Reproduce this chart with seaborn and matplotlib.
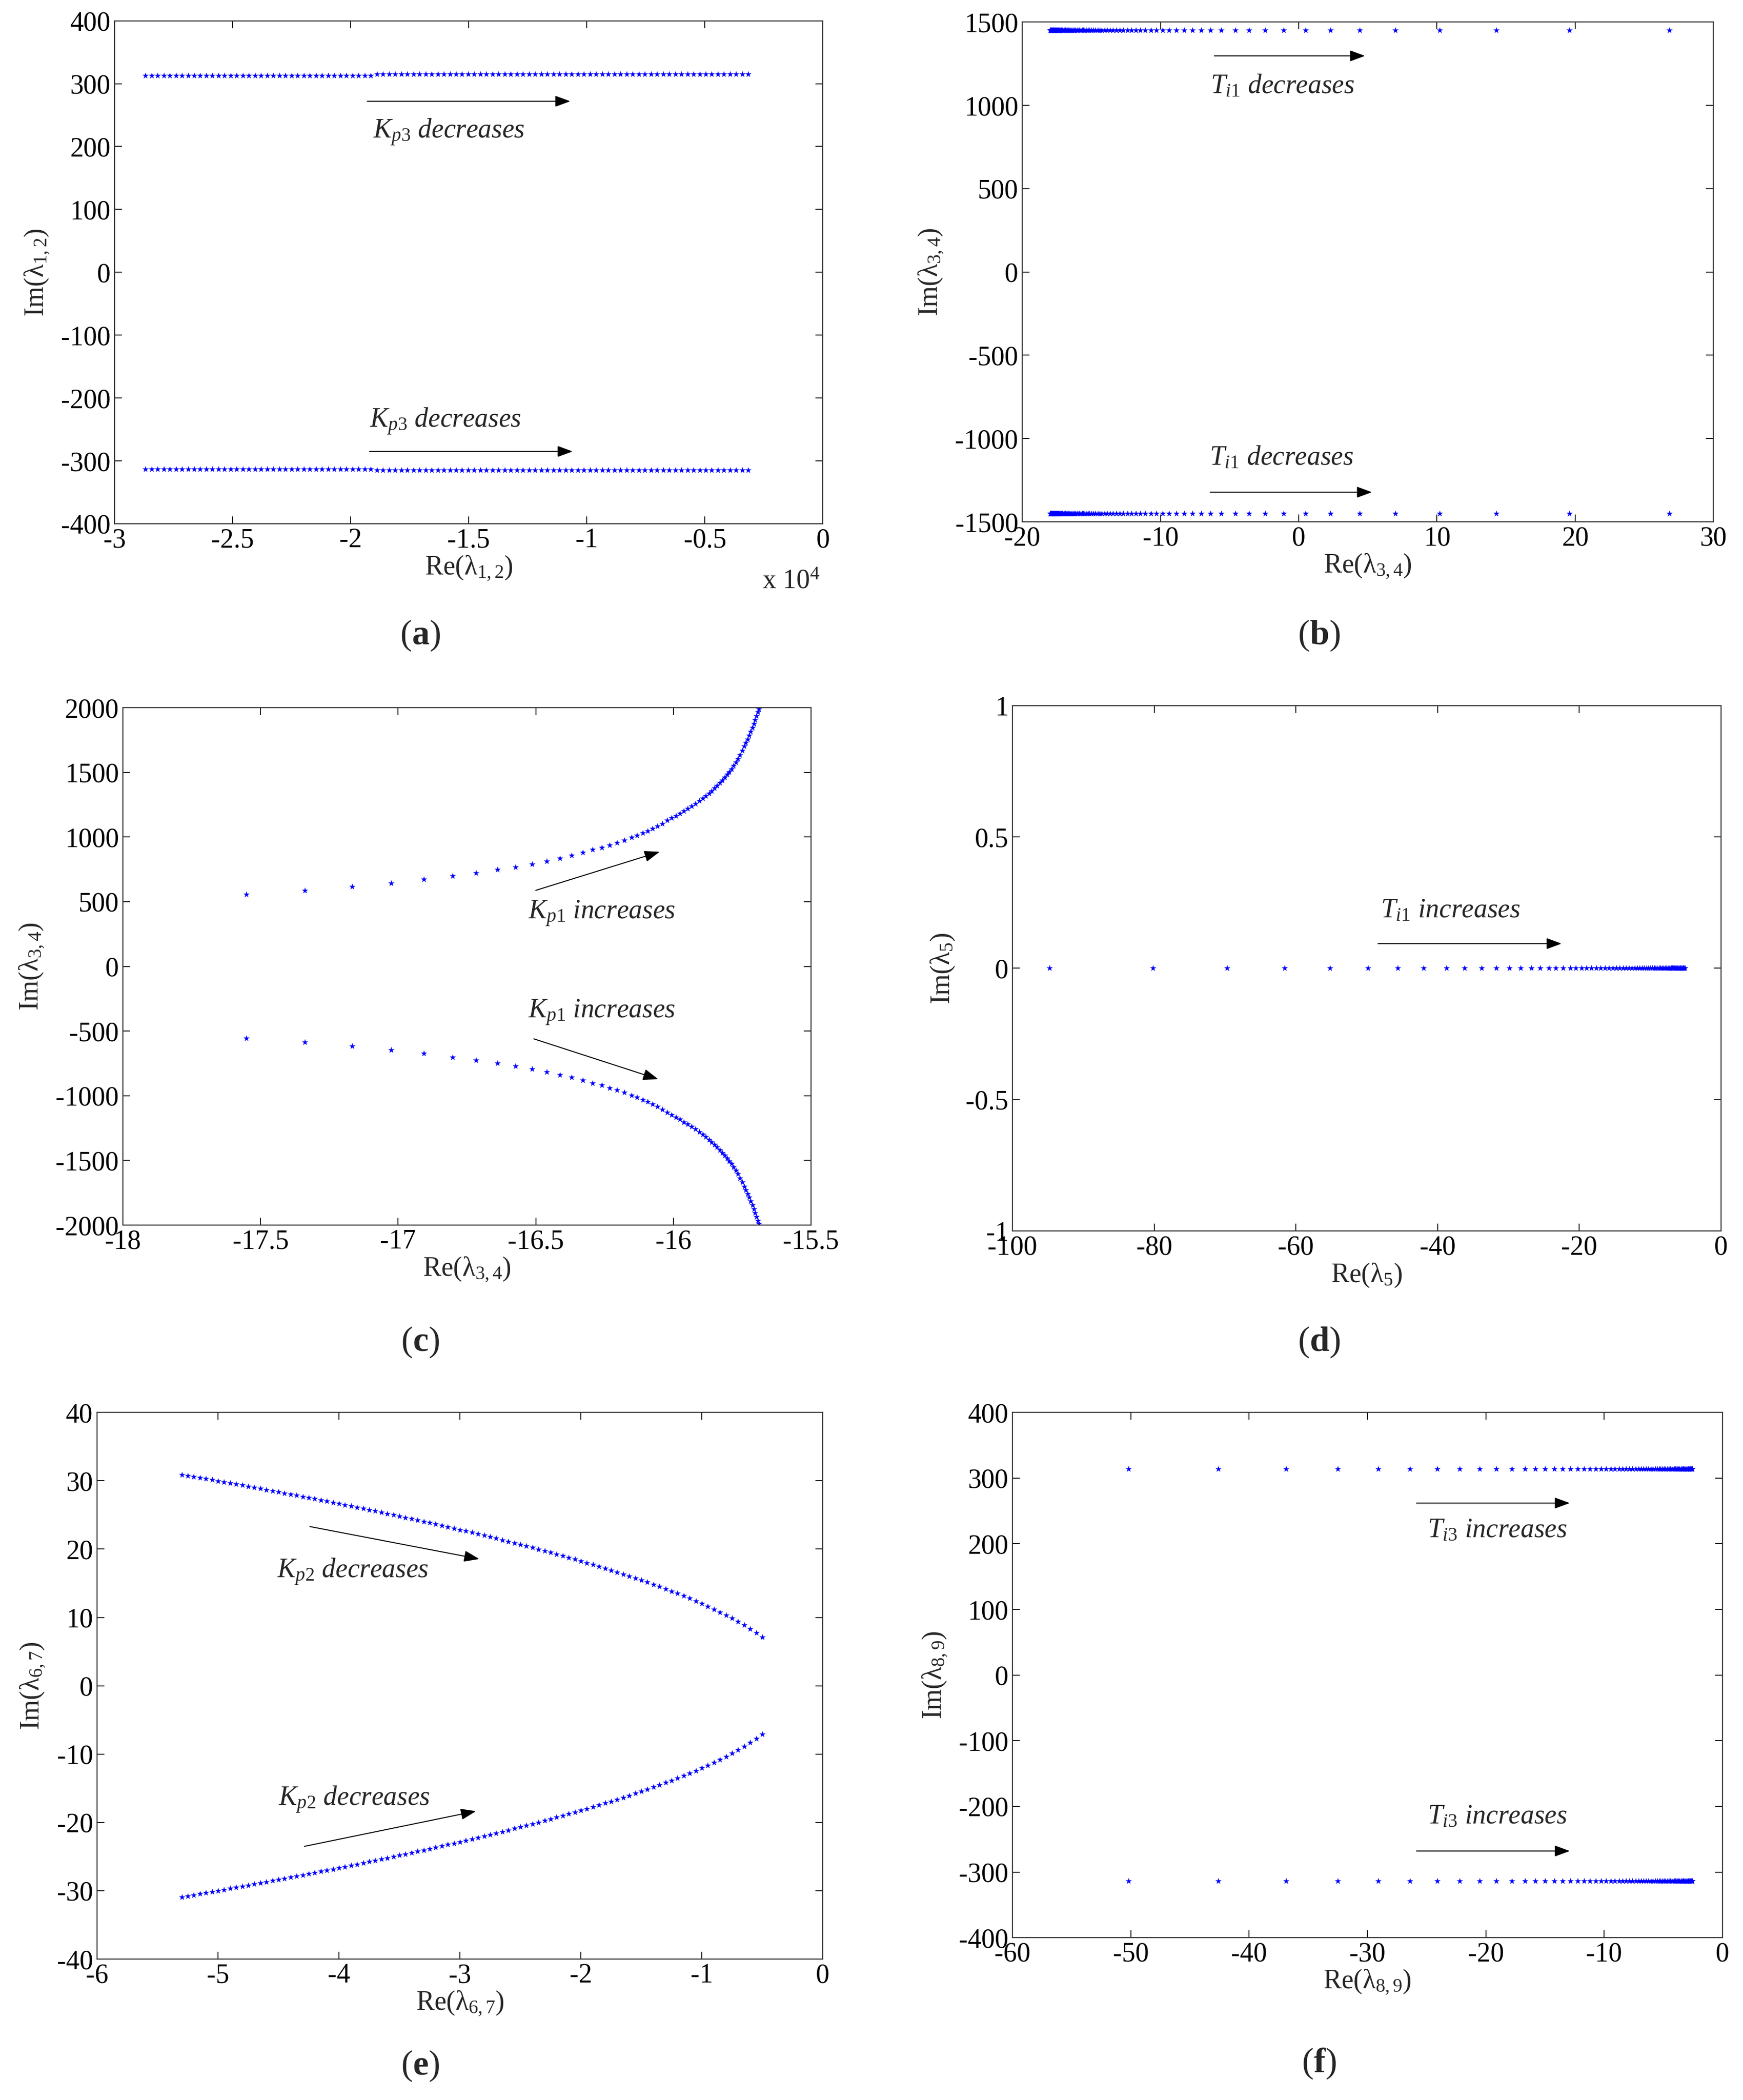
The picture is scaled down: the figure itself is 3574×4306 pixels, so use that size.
import numpy as np
import seaborn as sns
import matplotlib
matplotlib.use("Agg")
import matplotlib.pyplot as plt
from matplotlib.ticker import FuncFormatter

# ---------------- data ----------------
# (a) lambda_1,2 : Kp3 decreases (lower branch is the conjugate)
re_12 = [-28700, -28442, -28184, -27926, -27668, -27410, -27152, -26894, -26636, -26378,
         -26120, -25862, -25604, -25346, -25088, -24830, -24572, -24314, -24056, -23798,
         -23540, -23282, -23024, -22766, -22508, -22250, -21992, -21734, -21476, -21218,
         -20960, -20702, -20444, -20186, -19928, -19670, -19412, -19154, -18896, -18638,
         -18380, -18122, -17864, -17606, -17348, -17090, -16832, -16574, -16316, -16058,
         -15800, -15542, -15284, -15026, -14768, -14510, -14252, -13994, -13736, -13478,
         -13220, -12962, -12704, -12446, -12188, -11930, -11672, -11414, -11156, -10898,
         -10640, -10382, -10124, -9866, -9608, -9350, -9092, -8834, -8576, -8318,
         -8060, -7802, -7544, -7286, -7028, -6770, -6512, -6254, -5996, -5738,
         -5480, -5222, -4964, -4706, -4448, -4190, -3932, -3674, -3416, -3158]
im_12 = [313, 313, 313, 313, 313, 313, 313, 313, 313, 313,
         313, 313, 313, 313, 313, 313, 313, 313, 313, 313,
         313, 313, 313, 313, 313, 313, 313, 313, 313, 313,
         313, 313, 313, 313, 313, 313, 313, 313, 315, 315,
         315, 315, 315, 315, 315, 315, 315, 315, 315, 315,
         315, 315, 315, 315, 315, 315, 315, 315, 315, 315,
         315, 315, 315, 315, 315, 315, 315, 315, 315, 315,
         315, 315, 315, 315, 315, 315, 315, 315, 315, 315,
         315, 315, 315, 315, 315, 315, 315, 315, 315, 315,
         315, 315, 315, 315, 315, 315, 315, 315, 315, 315]

# (b) lambda_3,4 : Ti1 decreases
re_34b = [26.8, 19.6, 14.3, 10.2, 7.0, 4.4, 2.3, 0.5, -1.1, -2.45,
          -3.6, -4.6, -5.6, -6.4, -7.05, -7.7, -8.3, -8.85, -9.37, -9.85,
          -10.3, -10.7, -11.1, -11.45, -11.8, -12.1, -12.4, -12.7, -12.95, -13.2,
          -13.45, -13.65, -13.85, -14.05, -14.25, -14.4, -14.55, -14.7, -14.85, -15.0,
          -15.12, -15.24, -15.36, -15.48, -15.58, -15.68, -15.78, -15.88, -15.97, -16.06,
          -16.15, -16.23, -16.31, -16.39, -16.46, -16.53, -16.6, -16.67, -16.73, -16.79,
          -16.85, -16.91, -16.97, -17.02, -17.07, -17.12, -17.17, -17.22, -17.27, -17.31,
          -17.35, -17.39, -17.43, -17.47, -17.51, -17.55, -17.58, -17.61, -17.64, -17.67,
          -17.7, -17.73, -17.76, -17.79, -17.82, -17.85, -17.87, -17.89, -17.91, -17.93,
          -17.95, -17.97, -17.99]
im_34b = 1450.0

# (c) lambda_3,4 : Kp1 increases (upper branch)
re_34c = [-17.552, -17.339, -17.168, -17.025, -16.907, -16.802, -16.718, -16.640, -16.573, -16.513,
          -16.460, -16.412, -16.370, -16.330, -16.293, -16.260, -16.231, -16.205, -16.178, -16.152,
          -16.132, -16.112, -16.094, -16.076, -16.058, -16.041, -16.023, -16.006, -15.990, -15.977,
          -15.962, -15.948, -15.934, -15.920, -15.906, -15.894, -15.882, -15.871, -15.861, -15.851,
          -15.842, -15.832, -15.822, -15.813, -15.805, -15.797, -15.789, -15.781, -15.773, -15.766,
          -15.758, -15.750, -15.743, -15.737, -15.731, -15.725, -15.719, -15.713, -15.708, -15.703,
          -15.698, -15.693, -15.689]
im_34c = [555, 586, 617, 645, 673, 701, 724, 747, 769, 792,
          814, 837, 858, 880, 902, 919, 939, 956, 975, 996,
          1013, 1030, 1047, 1066, 1085, 1105, 1128, 1148, 1165, 1183,
          1203, 1220, 1238, 1258, 1280, 1300, 1318, 1338, 1357, 1377,
          1396, 1418, 1440, 1461, 1483, 1504, 1526, 1552, 1578, 1604,
          1636, 1668, 1701, 1729, 1757, 1785, 1815, 1845, 1876, 1906,
          1936, 1966, 1990]

# (d) lambda_5 : Ti1 increases (real eigenvalue)
re_5 = [-94.8, -80.2, -69.7, -61.6, -55.2, -49.8, -45.6, -42.0, -38.75, -36.2,
        -33.8, -31.7, -29.9, -28.3, -26.8, -25.5, -24.3, -23.3, -22.3, -21.3,
        -20.5, -19.7, -19.0, -18.3, -17.6, -17.0, -16.4, -15.85, -15.3, -14.8,
        -14.3, -13.85, -13.4, -13.0, -12.6, -12.2, -11.85, -11.5, -11.15, -10.85,
        -10.55, -10.25, -9.95, -9.7, -9.45, -9.2, -8.95, -8.7, -8.5, -8.3,
        -8.1, -7.9, -7.7, -7.5, -7.35, -7.2, -7.05, -6.9, -6.75, -6.6,
        -6.45, -6.3, -6.2, -6.1, -6.0, -5.9, -5.8, -5.7, -5.6, -5.5,
        -5.4, -5.3, -5.2, -5.1]
im_5 = 0.0

# (e) lambda_6,7 : Kp2 decreases (upper branch)
re_67 = [-5.30, -5.25, -5.20, -5.15, -5.10, -5.05, -5.00, -4.95, -4.90, -4.85,
         -4.80, -4.75, -4.70, -4.65, -4.60, -4.55, -4.50, -4.45, -4.40, -4.35,
         -4.30, -4.25, -4.20, -4.15, -4.10, -4.05, -4.00, -3.95, -3.90, -3.85,
         -3.80, -3.75, -3.70, -3.65, -3.60, -3.55, -3.50, -3.45, -3.40, -3.35,
         -3.30, -3.25, -3.20, -3.15, -3.10, -3.05, -3.00, -2.95, -2.90, -2.85,
         -2.80, -2.75, -2.70, -2.65, -2.60, -2.55, -2.50, -2.45, -2.40, -2.35,
         -2.30, -2.25, -2.20, -2.15, -2.10, -2.05, -2.00, -1.95, -1.90, -1.85,
         -1.80, -1.75, -1.70, -1.65, -1.60, -1.55, -1.50, -1.45, -1.40, -1.35,
         -1.30, -1.25, -1.20, -1.15, -1.10, -1.05, -1.00, -0.95, -0.90, -0.85,
         -0.80, -0.75, -0.70, -0.65, -0.60, -0.55, -0.50]
im_67 = [30.91, 30.76, 30.61, 30.45, 30.30, 30.14, 29.98, 29.83, 29.67, 29.51,
         29.35, 29.19, 29.02, 28.86, 28.70, 28.53, 28.37, 28.20, 28.03, 27.86,
         27.69, 27.52, 27.35, 27.18, 27.00, 26.83, 26.65, 26.48, 26.30, 26.12,
         25.94, 25.75, 25.57, 25.38, 25.20, 25.01, 24.82, 24.63, 24.44, 24.24,
         24.05, 23.85, 23.65, 23.45, 23.25, 23.05, 22.84, 22.64, 22.43, 22.22,
         22.00, 21.79, 21.57, 21.35, 21.13, 20.90, 20.68, 20.45, 20.21, 19.98,
         19.74, 19.50, 19.26, 19.01, 18.76, 18.51, 18.25, 17.99, 17.73, 17.46,
         17.19, 16.91, 16.63, 16.35, 16.06, 15.76, 15.46, 15.15, 14.83, 14.51,
         14.18, 13.85, 13.50, 13.15, 12.79, 12.41, 12.03, 11.63, 11.21, 10.78,
         10.34, 9.87, 9.38, 8.87, 8.32, 7.73, 7.09]

# (f) lambda_8,9 : Ti3 increases
re_89 = [-50.2, -42.6, -36.9, -32.5, -29.1, -26.4, -24.1, -22.2, -20.5, -19.1,
         -17.8, -16.7, -15.8, -15.0, -14.2, -13.5, -12.85, -12.25, -11.7, -11.2,
         -10.7, -10.25, -9.85, -9.45, -9.1, -8.75, -8.45, -8.15, -7.85, -7.6,
         -7.35, -7.1, -6.88, -6.66, -6.45, -6.25, -6.06, -5.88, -5.7, -5.53,
         -5.37, -5.22, -5.07, -4.93, -4.8, -4.67, -4.54, -4.42, -4.3, -4.19,
         -4.08, -3.98, -3.88, -3.78, -3.69, -3.6, -3.51, -3.43, -3.35, -3.27,
         -3.2, -3.13, -3.06, -2.99, -2.93, -2.87, -2.81, -2.75, -2.7, -2.65,
         -2.6, -2.56]
im_89 = 314.0

# ---------------- style ----------------
sns.set_style("white")
plt.rcParams["font.family"] = ["Liberation Serif", "DejaVu Serif"]
plt.rcParams["mathtext.fontset"] = "custom"
plt.rcParams["mathtext.rm"] = "Liberation Serif"
plt.rcParams["mathtext.it"] = "Liberation Serif:italic"
plt.rcParams["mathtext.bf"] = "Liberation Serif:bold"

FS = 40
BLUE = "#0000ff"

fig = plt.figure(figsize=(35.74, 43.06), dpi=100)


def style_axes(ax, xlim, ylim, xticks, yticks, xlabel, ylabel, xscale=1.0):
    ax.set_xlim(xlim)
    ax.set_ylim(ylim)
    ax.set_xticks(xticks)
    ax.set_yticks(yticks)
    ax.xaxis.set_major_formatter(FuncFormatter(lambda v, p: f"{v / xscale:g}"))
    ax.yaxis.set_major_formatter(FuncFormatter(lambda v, p: f"{v:g}"))
    ax.tick_params(direction="in", length=11, width=1.3, top=True, right=True,
                   bottom=True, left=True, labelsize=FS, pad=6, colors="black")
    for sp in ax.spines.values():
        sp.set_color("#333333")
        sp.set_linewidth(1.6)
    ax.set_xlabel(xlabel, fontsize=FS, labelpad=2)
    ax.set_ylabel(ylabel, fontsize=FS, labelpad=14)


def dots(ax, x, y):
    sns.scatterplot(x=np.asarray(x, float), y=np.asarray(y, float), ax=ax, color=BLUE,
                    marker="*", s=95, linewidth=0, legend=False)


def arrow(ax, start, end):
    ax.annotate("", xy=end, xytext=start,
                arrowprops=dict(arrowstyle="-|>,head_length=0.6,head_width=0.22",
                                color="black", lw=1.5, mutation_scale=32,
                                shrinkA=0, shrinkB=0))


def note(ax, x, y, s):
    ax.text(x, y, s, fontsize=FS, fontstyle="italic", ha="left", va="baseline")


# (a)
ax = fig.add_axes([0.0658, 0.7506, 0.4063, 0.2395])
dots(ax, re_12, im_12)
dots(ax, re_12, -np.asarray(im_12, float))
style_axes(ax, (-30000, 0), (-400, 400), [-30000, -25000, -20000, -15000, -10000, -5000, 0],
           [-400, -300, -200, -100, 0, 100, 200, 300, 400],
           "Re(λ$_{1,2}$)", "Im(λ$_{1,2}$)", xscale=1e4)
ax.text(0.955, -0.115, r"x 10$^{4}$", transform=ax.transAxes, fontsize=FS, ha="center", va="center")
arrow(ax, (-19300, 272), (-10700, 272))
note(ax, -19050, 213, r"$\mathit{K_{p3}}$ decreases")
arrow(ax, (-19200, -285), (-10600, -285))
note(ax, -19200, -247, r"$\mathit{K_{p3}}$ decreases")

# (b)
ax = fig.add_axes([0.5865, 0.7515, 0.3965, 0.2380])
dots(ax, re_34b, np.full(len(re_34b), im_34b))
dots(ax, re_34b, np.full(len(re_34b), -im_34b))
style_axes(ax, (-20, 30), (-1500, 1500), [-20, -10, 0, 10, 20, 30],
           [-1500, -1000, -500, 0, 500, 1000, 1500],
           "Re(λ$_{3,4}$)", "Im(λ$_{3,4}$)")
arrow(ax, (-6.1, 1297), (4.8, 1297))
note(ax, -6.4, 1073, r"$\mathit{T_{i1}}$ decreases")
arrow(ax, (-6.4, -1322), (5.3, -1322))
note(ax, -6.47, -1159, r"$\mathit{T_{i1}}$ decreases")

# (c)
ax = fig.add_axes([0.0705, 0.4166, 0.3948, 0.2464])
dots(ax, re_34c, im_34c)
dots(ax, re_34c, -np.asarray(im_34c, float))
style_axes(ax, (-18, -15.5), (-2000, 2000), [-18, -17.5, -17, -16.5, -16, -15.5],
           [-2000, -1500, -1000, -500, 0, 500, 1000, 1500, 2000],
           "Re(λ$_{3,4}$)", "Im(λ$_{3,4}$)")
arrow(ax, (-16.50, 588), (-16.05, 886))
note(ax, -16.527, 366, r"$\mathit{K_{p1}}$ increases")
arrow(ax, (-16.507, -560), (-16.055, -872))
note(ax, -16.527, -397, r"$\mathit{K_{p1}}$ increases")

# (d)
ax = fig.add_axes([0.5809, 0.4138, 0.4065, 0.2502])
dots(ax, re_5, np.full(len(re_5), im_5))
style_axes(ax, (-100, 0), (-1, 1), [-100, -80, -60, -40, -20, 0],
           [-1, -0.5, 0, 0.5, 1],
           "Re(λ$_{5}$)", "Im(λ$_{5}$)")
arrow(ax, (-48.4, 0.094), (-22.5, 0.094))
note(ax, -48.05, 0.193, r"$\mathit{T_{i1}}$ increases")

# (e)
ax = fig.add_axes([0.0557, 0.0671, 0.4163, 0.2603])
dots(ax, re_67, im_67)
dots(ax, re_67, -np.asarray(im_67, float))
style_axes(ax, (-6, 0), (-40, 40), [-6, -5, -4, -3, -2, -1, 0],
           [-40, -30, -20, -10, 0, 10, 20, 30, 40],
           "Re(λ$_{6,7}$)", "Im(λ$_{6,7}$)")
arrow(ax, (-4.24, 23.3), (-2.84, 18.55))
note(ax, -4.514, 15.83, r"$\mathit{K_{p2}}$ decreases")
arrow(ax, (-4.285, -23.5), (-2.867, -18.35))
note(ax, -4.5, -17.53, r"$\mathit{K_{p2}}$ decreases")

# (f)
ax = fig.add_axes([0.5809, 0.0773, 0.4073, 0.2501])
dots(ax, re_89, np.full(len(re_89), im_89))
dots(ax, re_89, np.full(len(re_89), -im_89))
style_axes(ax, (-60, 0), (-400, 400), [-60, -50, -40, -30, -20, -10, 0],
           [-400, -300, -200, -100, 0, 100, 200, 300, 400],
           "Re(λ$_{8,9}$)", "Im(λ$_{8,9}$)")
arrow(ax, (-25.86, 262), (-12.9, 262))
note(ax, -24.92, 210, r"$\mathit{T_{i3}}$ increases")
arrow(ax, (-25.86, -268), (-12.9, -268))
note(ax, -24.92, -226, r"$\mathit{T_{i3}}$ increases")

# panel letters
for lab, px, py in [("a", 0.241, 0.6974), ("b", 0.7566, 0.6974),
                    ("c", 0.241, 0.3609), ("d", 0.7566, 0.3609),
                    ("e", 0.241, 0.0163), ("f", 0.7566, 0.0174)]:
    fig.text(px, py, r"($\mathbf{" + lab + "}$)", fontsize=52, ha="center", va="center")

fig.savefig("out.png", dpi=100)
